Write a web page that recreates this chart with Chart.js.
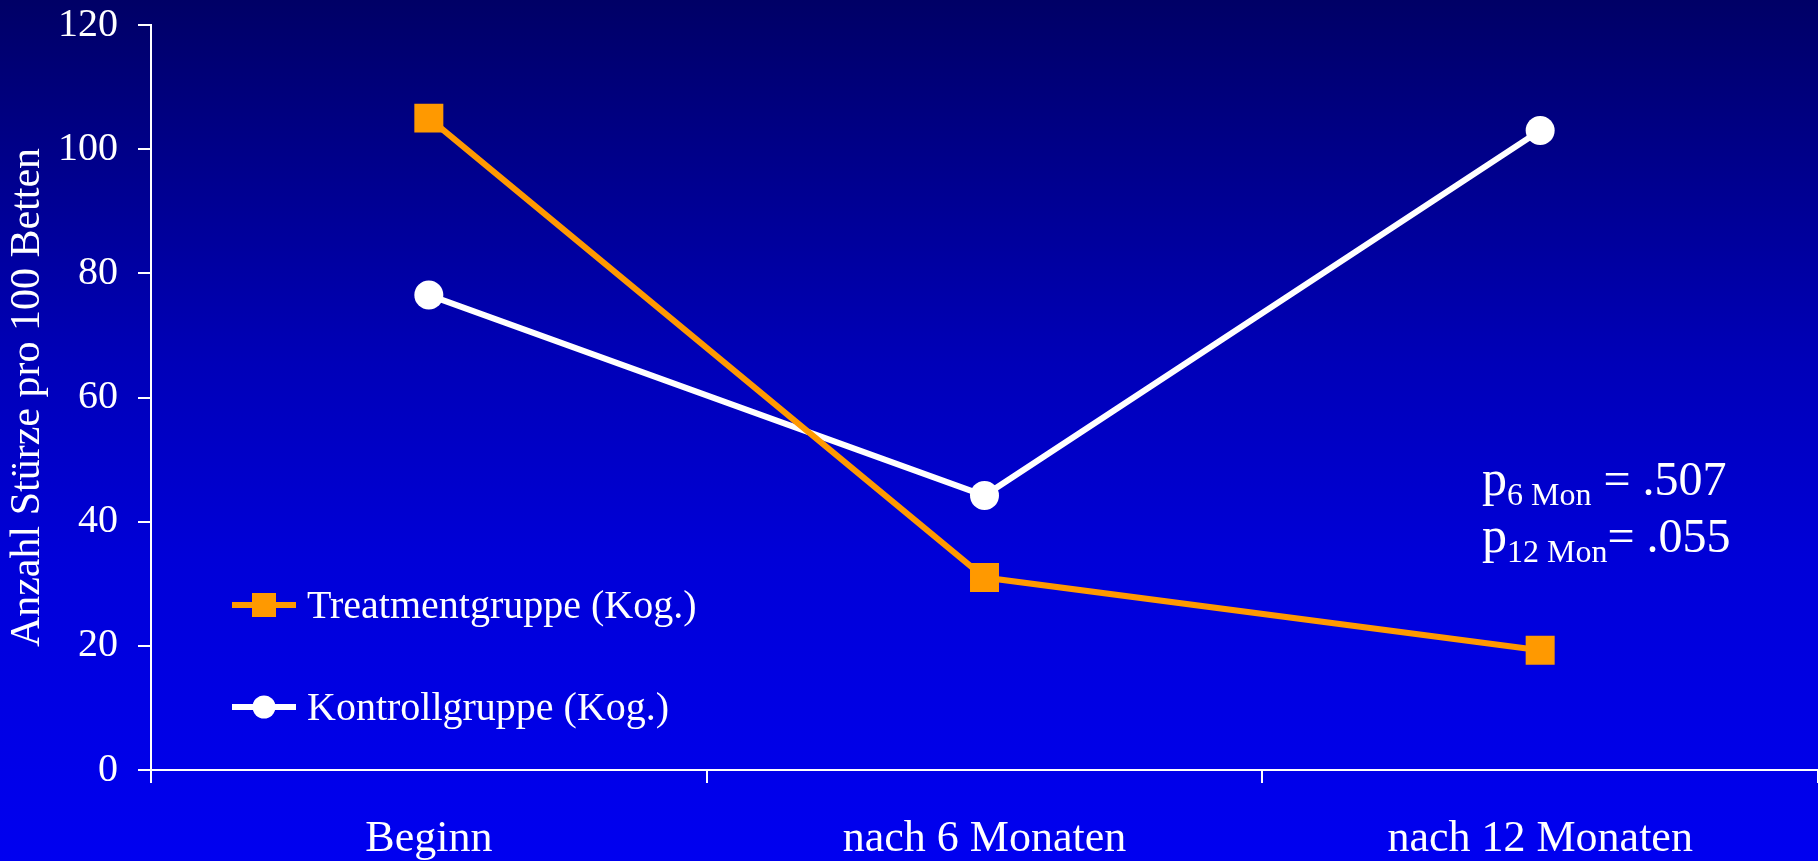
<!DOCTYPE html>
<html lang="de">
<head>
    <meta charset="UTF-8">
    <title>Anzahl Stürze pro 100 Betten</title>
    <script src="https://cdn.jsdelivr.net/npm/chart.js"></script>
    <style>
        html, body {
            margin: 0;
            padding: 0;
            overflow: hidden;
        }
        body {
            background: linear-gradient(to bottom, #000066 0%, #0000b8 42%, #0000d8 65%, #0000f0 100%);
        }
        .wrap {
            width: 1818px;
            height: 861px;
            position: relative;
        }
    </style>
</head>
<body>
    <div class="wrap">
        <canvas id="lineChart"></canvas>
    </div>
    <script>
        // Daten
        const categories = ['Beginn', 'nach 6 Monaten', 'nach 12 Monaten'];
        const treatment = [105, 31, 19.3];
        const control = [76.5, 44.2, 103];
        const seriesNames = ['Treatmentgruppe (Kog.)', 'Kontrollgruppe (Kog.)'];
        const yTicks = [0, 20, 40, 60, 80, 100, 120];
        const pValues = [['6 Mon', ' = .507'], ['12 Mon', '= .055']];

        const serif = '"Liberation Serif", "Times New Roman", serif';

        // legend inside the plot, bottom left
        const innerLegend = {
            id: 'innerLegend',
            afterDraw(chart) {
                const ctx = chart.ctx;
                const area = chart.chartArea;
                ctx.save();
                chart.data.datasets.forEach((ds, i) => {
                    const x0 = area.left + 81;
                    const y = area.top + 580 + i * 102;
                    ctx.strokeStyle = ds.borderColor;
                    ctx.lineWidth = 6;
                    ctx.beginPath();
                    ctx.moveTo(x0, y);
                    ctx.lineTo(x0 + 64, y);
                    ctx.stroke();
                    ctx.fillStyle = ds.borderColor;
                    if (ds.pointStyle === 'rect') {
                        ctx.fillRect(x0 + 20, y - 12, 24, 24);
                    } else {
                        ctx.beginPath();
                        ctx.arc(x0 + 32, y, 11.5, 0, Math.PI * 2);
                        ctx.fill();
                    }
                    ctx.fillStyle = '#ffffff';
                    ctx.font = '40px ' + serif;
                    ctx.textBaseline = 'middle';
                    ctx.textAlign = 'left';
                    ctx.fillText(ds.label, x0 + 75, y + 2);
                });
                ctx.restore();
            }
        };

        // p-Werte rechts
        const pText = {
            id: 'pText',
            afterDraw(chart) {
                const ctx = chart.ctx;
                ctx.save();
                ctx.fillStyle = '#ffffff';
                ctx.textBaseline = 'alphabetic';
                ctx.textAlign = 'left';
                pValues.forEach((pv, i) => {
                    const base = 495 + i * 57;
                    let x = 1482;
                    ctx.font = '50px ' + serif;
                    ctx.fillText('p', x, base);
                    x += ctx.measureText('p').width;
                    ctx.font = '32px ' + serif;
                    ctx.fillText(pv[0], x, base + 10);
                    x += ctx.measureText(pv[0]).width;
                    ctx.font = '48px ' + serif;
                    ctx.fillText(pv[1], x, base);
                });
                ctx.restore();
            }
        };

        const ctxLine = document.getElementById('lineChart').getContext('2d');
        const lineChart = new Chart(ctxLine, {
            type: 'line',
            data: {
                labels: categories,
                datasets: [
                    {
                        label: seriesNames[0],
                        data: treatment,
                        borderColor: '#ff9900',
                        backgroundColor: '#ff9900',
                        borderWidth: 6,
                        pointStyle: 'rect',
                        pointRadius: 20.5,
                        pointBorderWidth: 0,
                        tension: 0,
                    },
                    {
                        label: seriesNames[1],
                        data: control,
                        borderColor: '#ffffff',
                        backgroundColor: '#ffffff',
                        borderWidth: 6,
                        pointStyle: 'circle',
                        pointRadius: 14.5,
                        pointBorderWidth: 0,
                        tension: 0,
                    },
                ],
            },
            options: {
                responsive: true,
                maintainAspectRatio: false,
                animation: false,
                layout: {
                    autoPadding: false,
                    padding: { top: 25, right: 0, bottom: 0, left: 0 },
                },
                plugins: {
                    legend: { display: false },
                    tooltip: { enabled: false },
                },
                scales: {
                    x: {
                        offset: true,
                        border: { color: '#ffffff', width: 2 },
                        grid: {
                            display: true,
                            offset: true,
                            drawOnChartArea: false,
                            drawTicks: true,
                            tickLength: 13,
                            color: '#ffffff',
                            lineWidth: 2,
                        },
                        ticks: {
                            color: '#ffffff',
                            font: { family: serif, size: 44 },
                            padding: 30,
                            maxRotation: 0,
                        },
                        afterFit(scale) {
                            scale.height = 91;
                            scale.paddingLeft = 0;
                            scale.paddingRight = 0;
                        },
                    },
                    y: {
                        min: 0,
                        max: 120,
                        border: { color: '#ffffff', width: 2 },
                        grid: {
                            display: true,
                            drawOnChartArea: false,
                            drawTicks: true,
                            tickLength: 13,
                            color: '#ffffff',
                            lineWidth: 2,
                        },
                        afterBuildTicks(scale) {
                            scale.ticks = yTicks.map(v => ({ value: v }));
                        },
                        ticks: {
                            color: '#ffffff',
                            font: { family: serif, size: 40 },
                            padding: 20,
                        },
                        title: {
                            display: true,
                            text: 'Anzahl Stürze pro 100 Betten',
                            color: '#ffffff',
                            font: { family: serif, size: 42 },
                            padding: { top: 3, bottom: 0 },
                        },
                        afterFit(scale) {
                            scale.width = 151;
                            scale.paddingTop = 0;
                            scale.paddingBottom = 0;
                        },
                    },
                },
            },
            plugins: [innerLegend, pText],
        });
    </script>
</body>
</html>
